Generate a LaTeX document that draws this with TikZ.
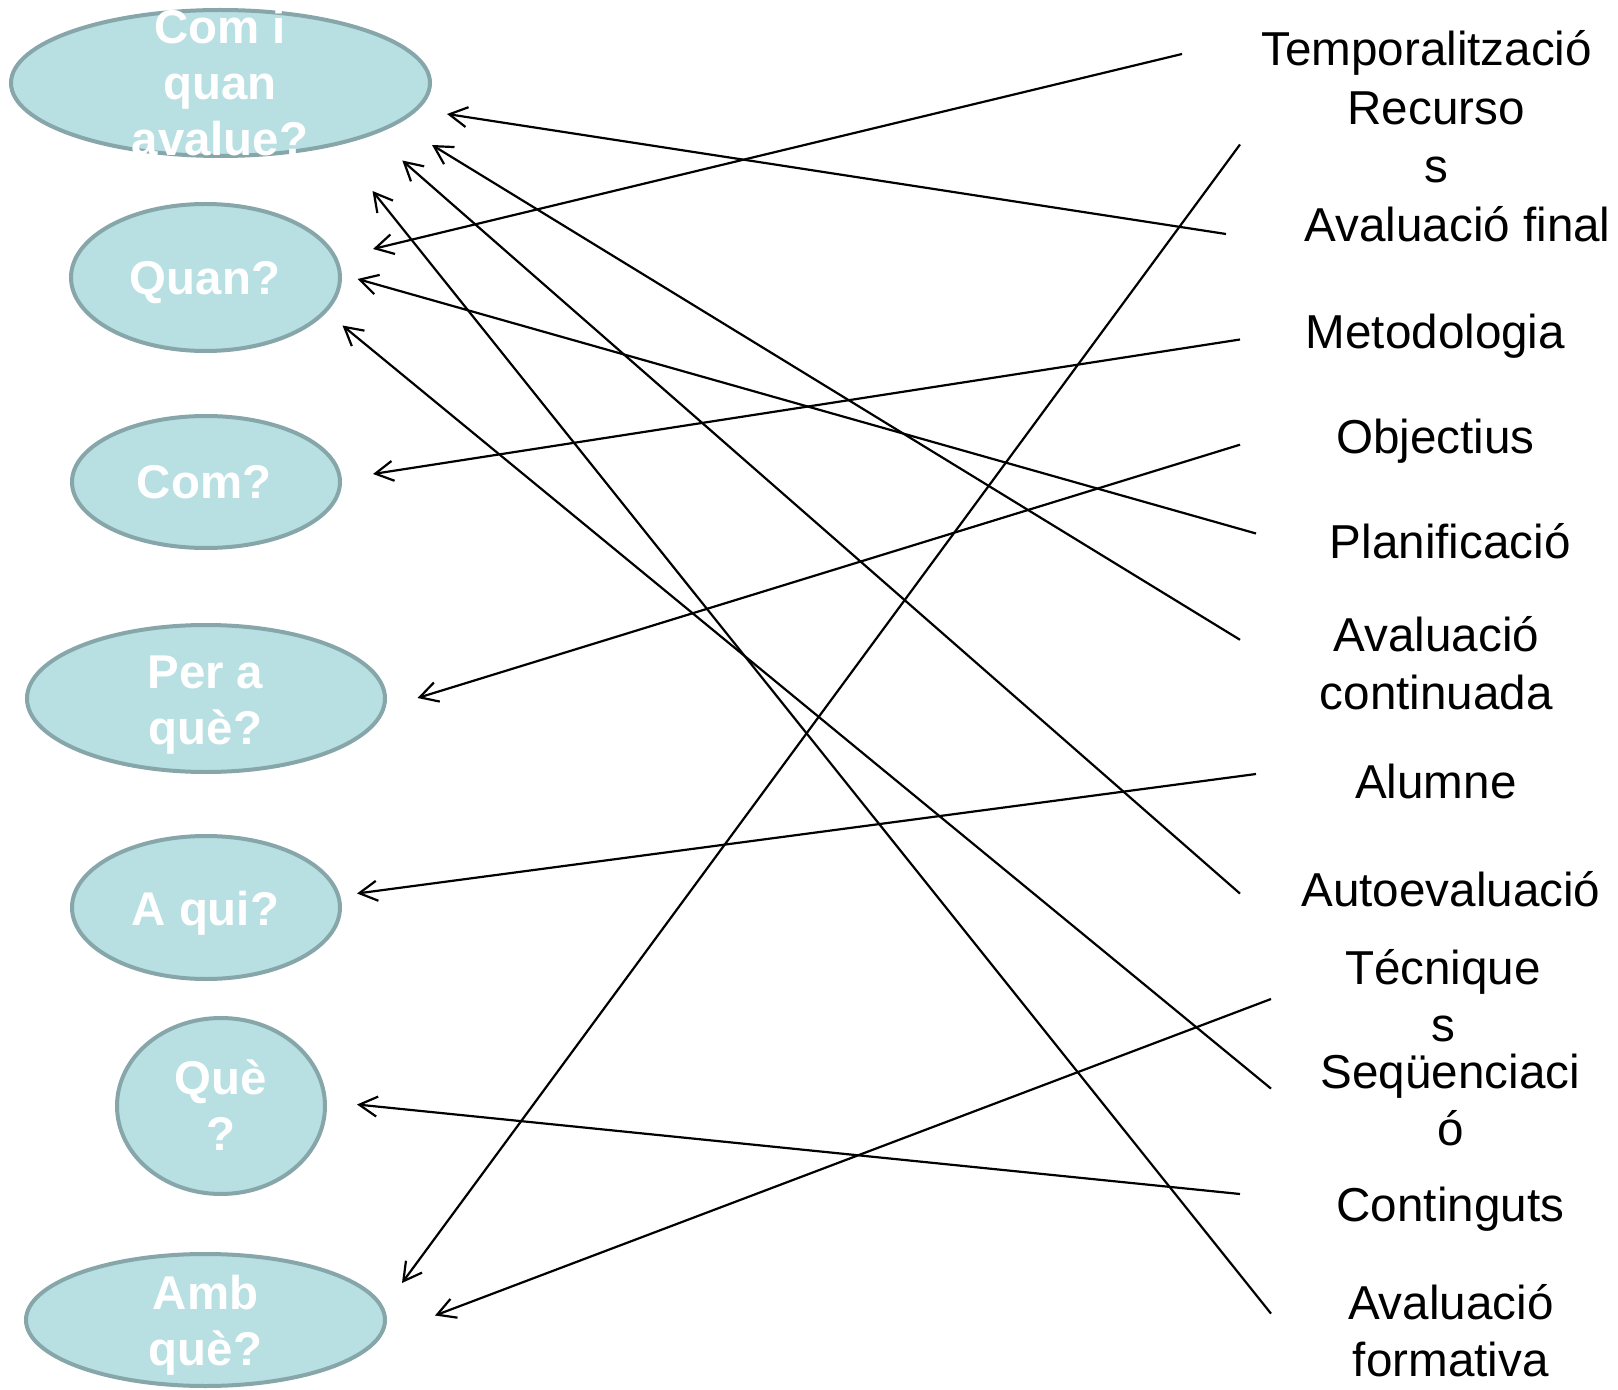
\documentclass[tikz,border=0pt]{standalone}
\usepackage{fontspec}
\setmainfont{Liberation Sans}
\usetikzlibrary{arrows.meta,shapes.geometric}
\definecolor{bubblefill}{RGB}{184,223,226}
\definecolor{bubbleedge}{RGB}{134,166,170}

\begin{document}
\begin{tikzpicture}[x=0.5pt,y=-0.5pt,
  bubble/.style={ellipse, draw=bubbleedge, fill=bubblefill, line width=2pt,
    inner sep=0pt, outer sep=0pt},
  % anchor=base sits on the baseline of the last line
  question/.style={anchor=base, align=center, text=white, inner sep=0pt,
    font=\fontsize{23.7pt}{28pt}\selectfont\bfseries},
  answer/.style={anchor=base, align=center, text=black, inner sep=0pt,
    font=\fontsize{23.8pt}{28.8pt}\selectfont},
  link/.style={line width=1.1pt, -{Straight Barb[length=9pt,width=10pt]}}]

\useasboundingbox (0,0) rectangle (1618,1390);

% question bubbles
\node[bubble, minimum width=209.5pt, minimum height=73pt]   (b1) at (220.5,83) {};
\node[bubble, minimum width=134.5pt, minimum height=73.5pt] (b2) at (205.5,277.5) {};
\node[bubble, minimum width=134pt,   minimum height=66pt]   (b3) at (206,482) {};
\node[bubble, minimum width=179pt,   minimum height=73.5pt] (b4) at (206,698.5) {};
\node[bubble, minimum width=134pt,   minimum height=71.5pt] (b5) at (206,907.5) {};
\node[bubble, minimum width=104pt,   minimum height=88pt]   (b6) at (221,1106) {};
\node[bubble, minimum width=179.5pt, minimum height=66pt]   (b7) at (205.5,1320) {};

% question texts
\node[question] (q1) at (220,155.3)   {Com i\\quan\\avalue?};
\node[question] (q2) at (205,295)     {Quan?};
\node[question] (q3) at (204,499)     {Com?};
\node[question] (q4) at (205.4,744.8) {Per a\\què?};
\node[question] (q5) at (205.4,925)   {A qui?};
\node[question] (q6) at (221,1150.5)  {Què\\?};
\node[question] (q7) at (205.5,1365)  {Amb\\què?};

% answers
\node[answer] (temp) at (1426.6,65.5)  {Temporalització};
\node[answer] (rec)  at (1436,182.6)   {Recurso\\s};
\node[answer] (fin)  at (1457.6,242)   {Avaluació final};
\node[answer] (met)  at (1435.4,349)   {Metodologia};
\node[answer] (obj)  at (1435.4,453.5) {Objectius};
\node[answer] (plan) at (1450.3,558.7) {Planificació};
\node[answer] (cont) at (1436.4,709.2) {Avaluació\\continuada};
\node[answer] (alu)  at (1435.9,798)   {Alumne};
\node[answer] (auto) at (1450.9,906.5) {Autoevaluació};
\node[answer] (tec)  at (1443,1041.6)  {Técnique\\s};
\node[answer] (seq)  at (1450.3,1145.6) {Seqüenciaci\\ó};
\node[answer] (cnt)  at (1450.3,1221)  {Continguts};
\node[answer] (form) at (1450.8,1376.9) {Avaluació\\formativa};

% loose line ends beside the answers
\coordinate (temp-s) at (1182,54);
\coordinate (rec-s)  at (1240,144.5);
\coordinate (fin-s)  at (1226,234);
\coordinate (met-s)  at (1240,339.5);
\coordinate (obj-s)  at (1240,444.7);
\coordinate (plan-s) at (1256,533.5);
\coordinate (cont-s) at (1240,639.8);
\coordinate (alu-s)  at (1256,774);
\coordinate (auto-s) at (1240,893.6);
\coordinate (tec-s)  at (1271,999);
\coordinate (seq-s)  at (1271,1088.6);
\coordinate (cnt-s)  at (1240,1194);
\coordinate (form-s) at (1271,1313.6);

% arrow tips beside the bubbles
\coordinate (b1-fin)  at (447,114);
\coordinate (b1-cont) at (432,145);
\coordinate (b1-auto) at (402.3,160.5);
\coordinate (b1-form) at (372.5,191);
\coordinate (b2-temp) at (373,249);
\coordinate (b2-plan) at (357.5,279);
\coordinate (b2-seq)  at (342.5,325.5);
\coordinate (b3-met)  at (373,474);
\coordinate (b4-obj)  at (417.5,698);
\coordinate (b5-alu)  at (357,893.5);
\coordinate (b6-cnt)  at (357,1104.5);
\coordinate (b7-rec)  at (402,1283);
\coordinate (b7-tec)  at (435,1315.5);

\draw[link] (temp-s) -- (b2-temp);
\draw[link] (rec-s)  -- (b7-rec);
\draw[link] (fin-s)  -- (b1-fin);
\draw[link] (met-s)  -- (b3-met);
\draw[link] (obj-s)  -- (b4-obj);
\draw[link] (plan-s) -- (b2-plan);
\draw[link] (cont-s) -- (b1-cont);
\draw[link] (alu-s)  -- (b5-alu);
\draw[link] (auto-s) -- (b1-auto);
\draw[link] (tec-s)  -- (b7-tec);
\draw[link] (seq-s)  -- (b2-seq);
\draw[link] (cnt-s)  -- (b6-cnt);
\draw[link] (form-s) -- (b1-form);
\end{tikzpicture}
\end{document}
